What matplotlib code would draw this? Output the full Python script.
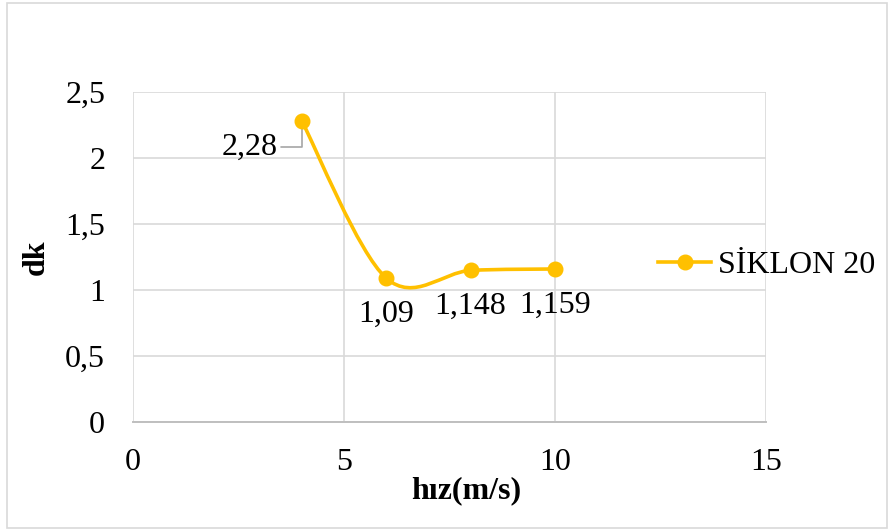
import matplotlib.pyplot as plt
from matplotlib.path import Path
from matplotlib.patches import PathPatch
from matplotlib.lines import Line2D

plt.rcParams['font.family'] = ['Liberation Serif', 'DejaVu Serif']

# data
hiz = [4, 6, 8, 10]
dk = [2.28, 1.09, 1.148, 1.159]
point_labels = ['2,28', '1,09', '1,148', '1,159']
series_name = 'SİKLON 20'
xticks = [0, 5, 10, 15]
yticks = [0, 0.5, 1, 1.5, 2, 2.5]
ytick_labels = ['0', '0,5', '1', '1,5', '2', '2,5']

gold = '#FFC000'
grid = '#D9D9D9'
fs = 23

fig = plt.figure(figsize=(8.95, 5.31), dpi=100)
# chart area border
fig.patches.append(plt.Rectangle((0.008, 0.006), 0.983, 0.988, transform=fig.transFigure,
                                 fill=False, edgecolor='#D9D9D9', linewidth=1.2))
ax = fig.add_axes([0.1486, 0.2053, 0.7073, 0.6215])

# smoothed line like Excel (bezier control points from neighbours)
pts = list(zip(hiz, dk))
verts = [pts[0]]
codes = [Path.MOVETO]
n = len(pts)
for i in range(n - 1):
    p0 = pts[i - 1] if i > 0 else pts[i]
    p1 = pts[i]
    p2 = pts[i + 1]
    p3 = pts[i + 2] if i + 2 < n else pts[i + 1]
    c1 = (p1[0] + (p2[0] - p0[0]) / 6, p1[1] + (p2[1] - p0[1]) / 6)
    c2 = (p2[0] - (p3[0] - p1[0]) / 6, p2[1] - (p3[1] - p1[1]) / 6)
    verts += [c1, c2, p2]
    codes += [Path.CURVE4] * 3
ax.add_patch(PathPatch(Path(verts, codes), facecolor='none', edgecolor=gold,
                       linewidth=2.6, zorder=3, capstyle='round'))
ax.plot(hiz, dk, linestyle='none', marker='o', markersize=10.5, color=gold, zorder=4)

ax.set_xlim(0, 15)
ax.set_ylim(0, 2.5)
ax.set_xticks(xticks)
ax.set_xticklabels([str(t) for t in xticks])
ax.set_yticks(yticks)
ax.set_yticklabels(ytick_labels)
ax.tick_params(length=0, labelsize=fs, colors='black')
ax.tick_params(axis='x', pad=19)
ax.tick_params(axis='y', pad=20)
ax.grid(True, color=grid, linewidth=1.2)
ax.set_axisbelow(True)
for s in ['top', 'right', 'left']:
    ax.spines[s].set_visible(False)
ax.spines['bottom'].set_color('#BFBFBF')
ax.spines['bottom'].set_linewidth(1.4)

# data labels
ax.annotate(point_labels[0], xy=(hiz[0], dk[0]), xytext=(-24, -26), textcoords='offset pixels',
            ha='right', va='center', fontsize=fs,
            arrowprops=dict(arrowstyle='-', color='#A6A6A6', lw=1.2, relpos=(1, 0.5),
                            connectionstyle='angle,angleA=0,angleB=90,rad=0',
                            shrinkA=0, shrinkB=5))
for xv, yv, lab in zip(hiz[1:], dk[1:], point_labels[1:]):
    ax.annotate(lab, xy=(xv, yv), xytext=(0, -36), textcoords='offset pixels',
                ha='center', va='center', fontsize=fs)

ax.set_xlabel('hız(m/s)', fontsize=fs, fontweight='bold')
ax.xaxis.set_label_coords(0.527, -0.165)
ax.set_ylabel('dk', fontsize=fs, fontweight='bold')
ax.yaxis.set_label_coords(-0.13, 0.5)

handle = Line2D([], [], color=gold, linewidth=2.6, marker='o', markersize=10.5)
fig.legend([handle], [series_name], loc='center right', bbox_to_anchor=(0.978, 0.5),
           frameon=False, fontsize=fs, handlelength=1.65, handletextpad=0.22,
           borderpad=0, borderaxespad=0)

fig.savefig('out.png', dpi=100)
